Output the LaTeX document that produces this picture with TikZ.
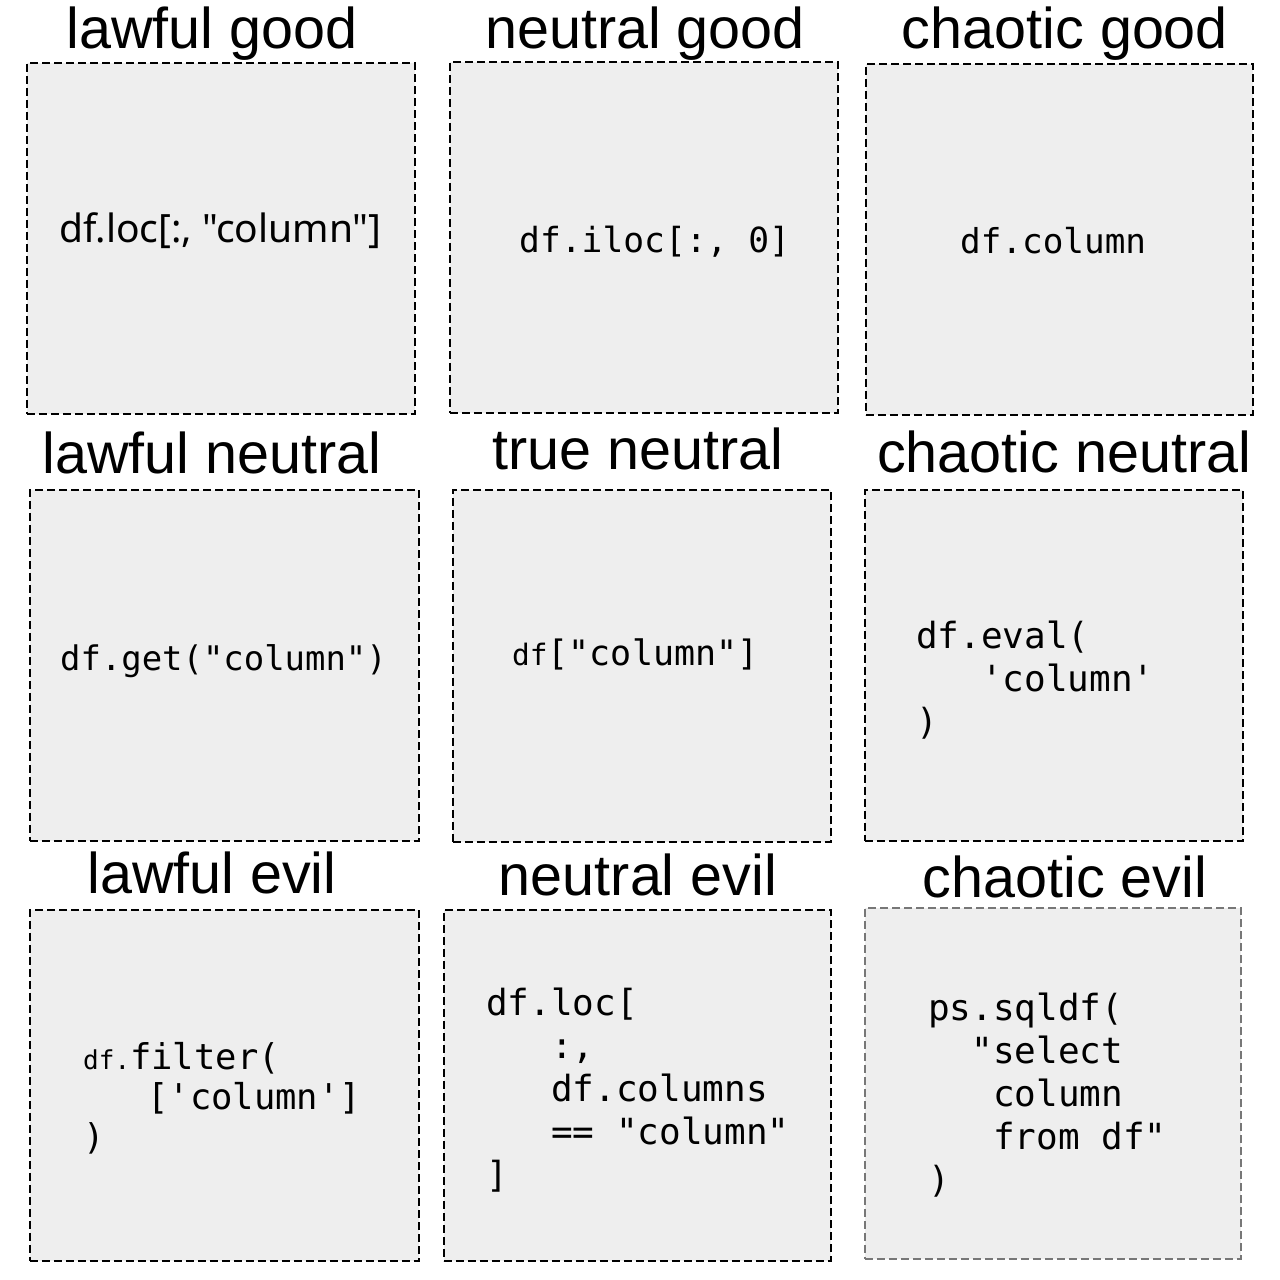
\documentclass[tikz,border=0pt]{standalone}
\usepackage{fontspec}
\setmainfont{Liberation Sans}
\setmonofont{DejaVu Sans Mono}
\newfontfamily\codesans{Noto Sans}
\begin{document}
\begin{tikzpicture}[x=1pt,y=-1pt,
  panel/.style={draw=black, line width=1.6pt, dash pattern=on 8pt off 4pt, fill=panelgray, inner sep=0pt, anchor=north west},
  title/.style={anchor=base, inner sep=0pt, font=\fontsize{57.5}{60}\selectfont},
  code/.style={anchor=base west, inner sep=0pt, align=left, font=\ttfamily\fontsize{36}{43}\selectfont},
]
\definecolor{panelgray}{HTML}{EEEEEE}
\definecolor{ceborder}{HTML}{777777}
\useasboundingbox[fill=white] (0,0) rectangle (1280,1280);
% panels
\node[panel, minimum width=388pt, minimum height=351pt] (lgbox) at (26,62) {};
\node[panel, minimum width=388pt, minimum height=351pt] (ngbox) at (449,61) {};
\node[panel, minimum width=387pt, minimum height=351pt] (cgbox) at (865,63) {};
\node[panel, minimum width=389pt, minimum height=351pt] (lnbox) at (29,489) {};
\node[panel, minimum width=378pt, minimum height=352pt] (tnbox) at (452,489) {};
\node[panel, minimum width=378pt, minimum height=351pt] (cnbox) at (864,489) {};
\node[panel, minimum width=389pt, minimum height=351pt] (lebox) at (29,909) {};
\node[panel, minimum width=387pt, minimum height=351pt] (nebox) at (443,909) {};
\node[panel, draw=ceborder, minimum width=376pt, minimum height=351pt] (cebox) at (864,907) {};
% titles
\node[title] (lgt) at (212,48) {lawful good};
\node[title] (ngt) at (645,48) {neutral good};
\node[title] (cgt) at (1065,48) {chaotic good};
\node[title] (lnt) at (212,473) {lawful neutral};
\node[title] (tnt) at (638,469) {true neutral};
\node[title] (cnt) at (1064,472) {chaotic neutral};
\node[title] (let) at (212,893) {lawful evil};
\node[title] (net) at (638,895) {neutral evil};
\node[title] (cet) at (1065,897) {chaotic evil};
% code (multi-line nodes: base anchor is the last line's baseline)
\node[anchor=base west, inner sep=0pt, font=\codesans\fontsize{39}{43}\selectfont] (lgc) at (59,242) {df.loc[:, "column"]};
\node[code, font=\ttfamily\fontsize{34.6}{43}\selectfont] (ngc) at (519,252) {df.iloc[:, 0]};
\node[code, font=\ttfamily\fontsize{34.3}{43}\selectfont] (cgc) at (960,253) {df.column};
\node[code, font=\ttfamily\fontsize{33.9}{43}\selectfont] (lnc) at (60,670) {df.get("column")};
\node[code, font=\ttfamily\fontsize{35}{43}\selectfont] (tnc) at (512,665) {{\fontsize{29.5}{43}\selectfont df}["column"]};
\node[code] (cnc) at (916,734) {df.eval(\\\phantom{xxx}'column'\\)};
\node[code, font=\ttfamily\fontsize{35.5}{40}\selectfont] (lec) at (83,1149) {{\fontsize{26}{40}\selectfont df.}filter(\\\phantom{xxx}['column']\\)};
\node[code] (nec) at (486,1187) {df.loc[\\\phantom{xxx}:,\\\phantom{xxx}df.columns\\\phantom{xxx}== "column"\\]};
\node[code] (cec) at (928,1192) {ps.sqldf(\\\phantom{xx}"select\\\phantom{xxx}column\\\phantom{xxx}from df"\\)};
\end{tikzpicture}
\end{document}
